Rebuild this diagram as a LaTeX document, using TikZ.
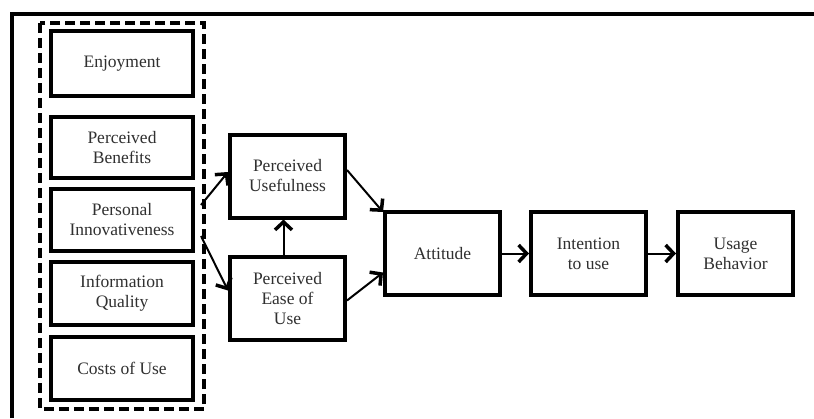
\documentclass[tikz,border=0pt]{standalone}
\usepackage{fontspec}
\setmainfont{Liberation Serif}
\usetikzlibrary{arrows.meta,calc}
\definecolor{txt}{HTML}{303030}
\tikzset{
  box/.style={draw=black, line width=4pt, fill=white, align=center, text=txt,
    font=\fontsize{17.5}{20}\selectfont, inner sep=2pt},
  leftbox/.style={box, minimum width=142pt},
  midbox/.style={box, minimum width=115pt, minimum height=83pt},
  link/.style={line width=2pt, -{Straight Barb[length=8pt,width=17pt,line width=3.5pt]}},
  grpframe/.style={draw=black, line width=4pt, dash pattern=on 10pt off 5pt}
}
\begin{document}
\begin{tikzpicture}[x=1pt,y=-1pt]
  \useasboundingbox (0,0) rectangle (814,418);
  \fill[white] (0,0) rectangle (814,418);
  % frame along the top and left edges
  \draw[line width=4.5pt] (12,418) -- (12,14) -- (814,14);

  % external variables grouped in a dashed frame
  \draw[grpframe] (40,23) rectangle (204,409);
  \node[leftbox, minimum height=65pt] (enj) at (122,63.5) {Enjoyment};
  \node[leftbox, minimum height=61pt] (pb)  at (122,147.5) {Perceived\\Benefits};
  \node[leftbox, minimum height=62pt] (pi)  at (122,220) {Personal\\Innovativeness};
  \node[leftbox, minimum height=63pt] (iq)  at (122,293.5) {Information\\Quality};
  \node[leftbox, minimum height=63pt] (cu)  at (122,368.5) {Costs of Use};

  \node[midbox] (pu)  at (287.5,176) {Perceived\\Usefulness};
  \node[midbox] (peu) at (287.5,298.5) {Perceived\\Ease of\\Use};
  \node[midbox] (att) at (442.5,253.5) {Attitude};
  \node[midbox] (int) at (588.5,253.5) {Intention\\to use};
  \node[midbox] (use) at (735.5,253.5) {Usage\\Behavior};

  % connectors leaving the dashed group
  \coordinate (gout1) at (201,205);
  \coordinate (gout2) at (201,236);
  \draw[link] (gout1) -- ([yshift=4pt]pu.west);
  \draw[link] (gout2) -- ([yshift=8pt]peu.west);

  \draw[link] ([xshift=-4pt]peu.north) -- ([xshift=-4pt]pu.south);
  \draw[link] ([yshift=6pt]pu.east) -- ([yshift=-2pt]att.north west);
  \draw[link] ([yshift=-2pt]peu.east) -- ([yshift=-19pt]att.west);
  \draw[link] (att.east) -- (int.west);
  \draw[link] (int.east) -- (use.west);
\end{tikzpicture}
\end{document}
